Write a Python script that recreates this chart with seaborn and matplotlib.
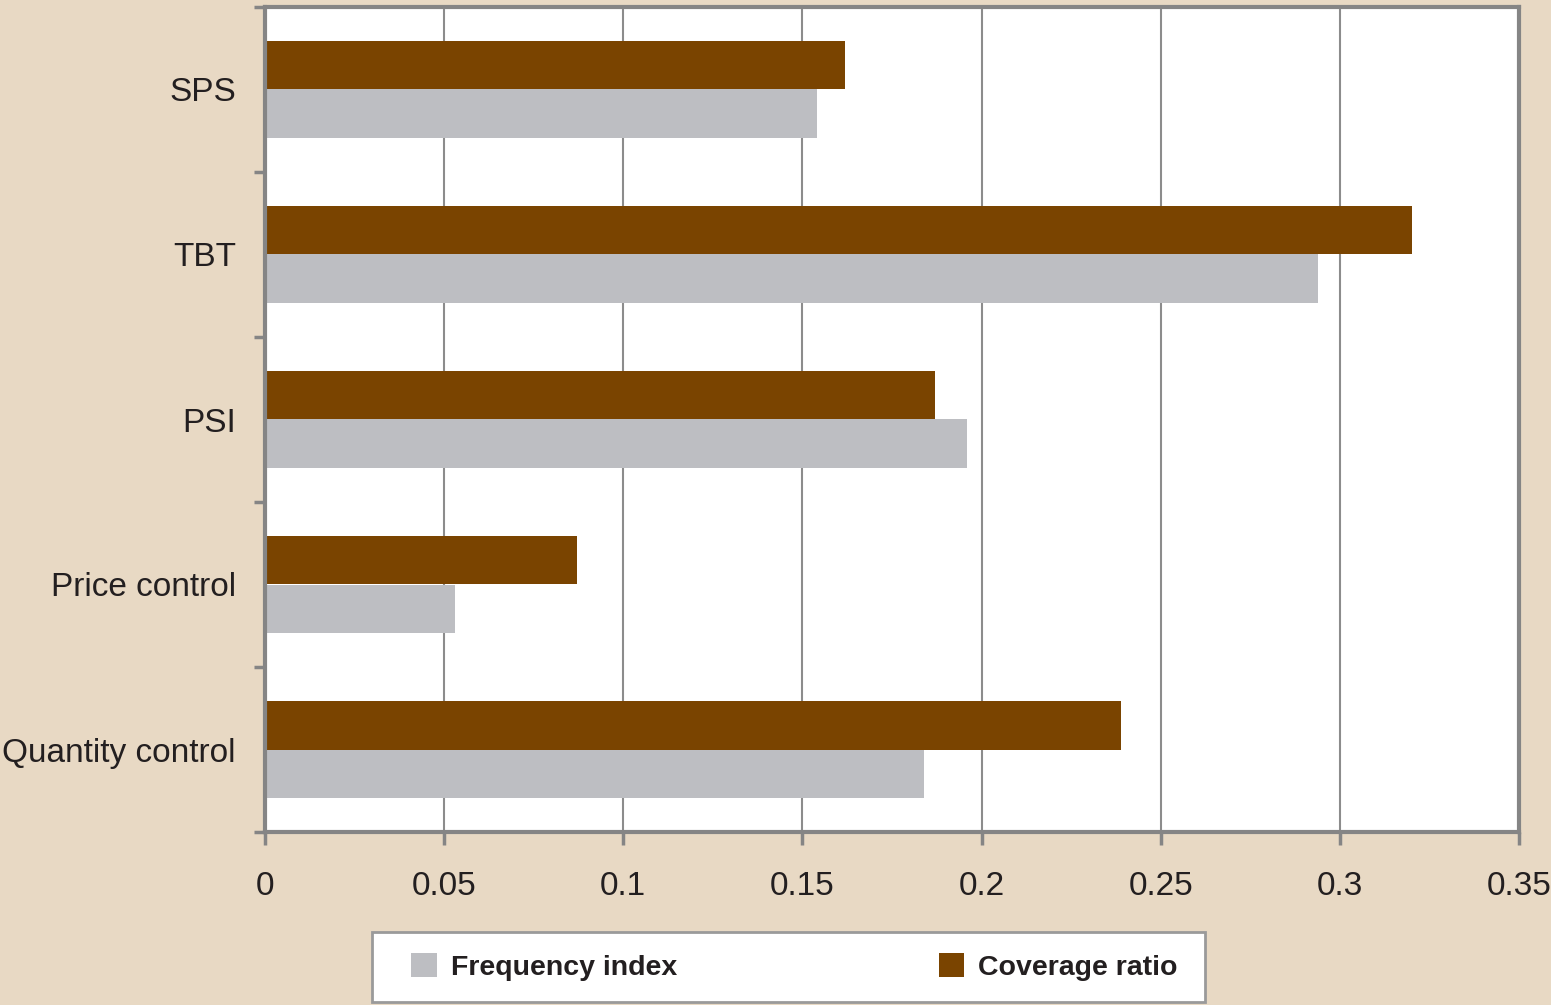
import matplotlib
matplotlib.use("Agg")
import matplotlib.pyplot as plt
from matplotlib.patches import Patch, Rectangle
from matplotlib.ticker import FixedLocator
import seaborn as sns
import pandas as pd

# Non-tariff measure categories and their indices
categories = ["SPS", "TBT", "PSI", "Price control", "Quantity control"]
frequency_index = [0.154, 0.294, 0.196, 0.053, 0.184]
coverage_ratio = [0.162, 0.320, 0.187, 0.087, 0.239]
series_names = ["Frequency index", "Coverage ratio"]
x_ticks = [0, 0.05, 0.1, 0.15, 0.2, 0.25, 0.3, 0.35]
x_tick_labels = ["0", "0.05", "0.1", "0.15", "0.2", "0.25", "0.3", "0.35"]

BG = "#E8D9C4"
GRAY_BAR = "#BDBEC2"
BROWN = "#7A4400"
AXIS_GRAY = "#858585"
TEXT = "#231F20"

df = pd.DataFrame({
    "category": categories * 2,
    "value": frequency_index + coverage_ratio,
    "series": [series_names[0]] * len(categories) + [series_names[1]] * len(categories),
})

sns.set_style("white")
plt.rcParams["font.family"] = ["Liberation Sans", "DejaVu Sans"]

W, H = 1551, 1005
fig = plt.figure(figsize=(W / 100, H / 100), dpi=100, facecolor=BG)
ax = fig.add_axes([265 / W, 1 - 832 / H, (1519 - 265) / W, (832 - 7) / H])
ax.set_facecolor("white")

sns.barplot(
    data=df, y="category", x="value", hue="series",
    order=categories, hue_order=["Coverage ratio", "Frequency index"],
    palette={"Frequency index": GRAY_BAR, "Coverage ratio": BROWN},
    orient="h", width=0.59, linewidth=0, saturation=1, legend=False, ax=ax,
)

ax.set_xlim(0, 0.35)
ax.set_ylim(len(categories) - 0.5, -0.5)
ax.set_xlabel("")
ax.set_ylabel("")

# x axis
ax.set_xticks(x_ticks)
ax.set_xticklabels(x_tick_labels)
ax.tick_params(axis="x", which="major", direction="out", length=9, width=2.5,
               color=AXIS_GRAY, pad=19, labelsize=24, labelcolor=TEXT, bottom=True)

# y axis: labels at category centres, tick marks at category boundaries
ax.tick_params(axis="y", which="major", length=0, pad=21, labelsize=24,
               labelcolor=TEXT, left=True)
ax.yaxis.set_minor_locator(FixedLocator([i - 0.5 for i in range(len(categories) + 1)]))
ax.tick_params(axis="y", which="minor", direction="out", length=8, width=2.5,
               color=AXIS_GRAY, left=True)

ax.grid(axis="x", color="#8C8C8C", linewidth=1.5)
ax.grid(axis="y", visible=False)
ax.set_axisbelow(True)

for side in ["left", "right", "top", "bottom"]:
    ax.spines[side].set_visible(True)
    ax.spines[side].set_color(AXIS_GRAY)
    ax.spines[side].set_linewidth(3)

# Legend box drawn beneath the chart
fig.add_artist(Rectangle((372 / W, 1 - 1002 / H), (1205 - 372) / W, 70 / H,
                         transform=fig.transFigure, facecolor="white",
                         edgecolor="#9A9A9A", linewidth=2, zorder=1))

handles = [Patch(facecolor=GRAY_BAR, edgecolor="none"),
           Patch(facecolor=BROWN, edgecolor="none")]
leg = fig.legend(
    handles, series_names, loc="center left",
    bbox_to_anchor=(411 / W, 1 - 1000 / H, (1178 - 411) / W, 66 / H),
    mode="expand", ncol=2, borderaxespad=0, borderpad=0, frameon=False,
    handlelength=0.9, handleheight=0.9, handletextpad=0.5,
    prop={"family": ["Liberation Sans", "DejaVu Sans"], "weight": "bold", "size": 20.5},
)
leg.set_zorder(2)
for t in leg.get_texts():
    t.set_color(TEXT)

fig.savefig("out.png", dpi=100, facecolor=BG)
